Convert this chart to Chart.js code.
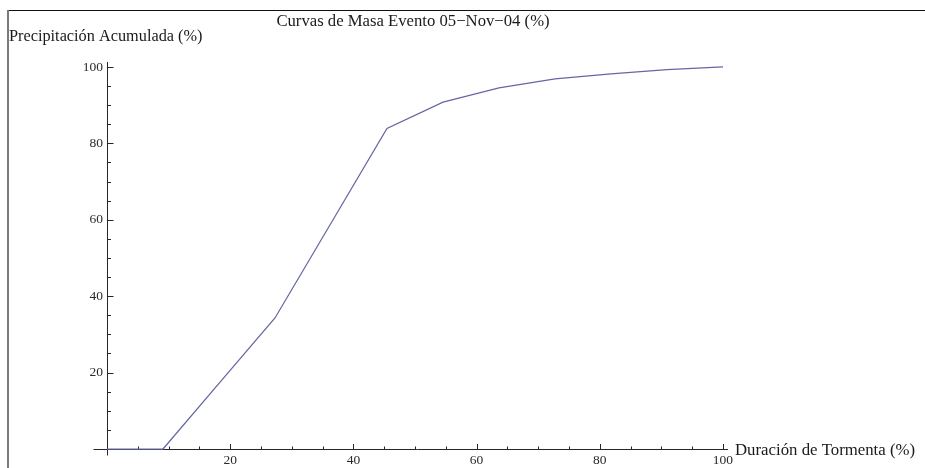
<!DOCTYPE html>
<html>
<head>
<meta charset="utf-8">
<script src="https://cdn.jsdelivr.net/npm/chart.js@4.4.1/dist/chart.umd.min.js"></script>
<style>
  html, body { margin: 0; padding: 0; background: #fff; }
  canvas { display: block; }
</style>
</head>
<body>
<canvas id="massCurve" width="925" height="468"></canvas>
<script>
// Texts
const chartTitle = 'Curvas de Masa Evento 05\u2212Nov\u221204 (%)';
const xAxisTitle = 'Duración de Tormenta (%)';
const yAxisTitle = 'Precipitación Acumulada (%)';

// Mass curve: cumulative storm duration (%) vs cumulative rainfall (%)
const durationPct = [0, 9.09, 18.18, 27.27, 36.36, 45.45, 54.55, 63.64, 72.73, 81.82, 90.91, 100];
const precipPct   = [0, 0, 17.2, 34.3, 59.1, 83.9, 90.8, 94.5, 96.9, 98.2, 99.3, 100];

// Labelled ticks and minor tick step
const xTickValues = [20, 40, 60, 80, 100];
const yTickValues = [20, 40, 60, 80, 100];
const minorStep = 5;

const serif = "'Liberation Serif', 'Times New Roman', serif";
const axisColor = '#262626';
const lineColor = '#6666a4';

// Frame, tick marks, axis overhangs and titles (Mathematica-style axes through the origin)
const axesDecor = {
  id: 'axesDecor',
  beforeDraw(chart) {
    const ctx = chart.ctx;
    ctx.save();
    ctx.fillStyle = '#fff';
    ctx.fillRect(0, 0, chart.width, chart.height);
    ctx.fillStyle = '#111';
    ctx.fillRect(8, 10, chart.width - 8, 1);
    ctx.fillStyle = '#7a7a7a';
    ctx.fillRect(7, 10, 2, chart.height - 10);
    ctx.restore();
  },
  beforeDatasetsDraw(chart) {
    const { ctx, scales: { x, y } } = chart;
    const x0 = Math.round(x.getPixelForValue(0)) + 0.5;
    const y0 = Math.round(y.getPixelForValue(0)) + 0.5;
    ctx.save();
    ctx.strokeStyle = axisColor;
    ctx.lineWidth = 1;
    ctx.beginPath();
    // overhangs past the origin
    ctx.moveTo(x0 - 14, y0); ctx.lineTo(x0, y0);
    ctx.moveTo(x0, y0); ctx.lineTo(x0, y0 + 6);
    // tick marks, drawn inward
    for (let v = minorStep; v <= 100; v += minorStep) {
      const major = v % 20 === 0;
      const px = Math.round(x.getPixelForValue(v)) + 0.5;
      ctx.moveTo(px, y0); ctx.lineTo(px, y0 - (major ? 5.5 : 3));
      const py = Math.round(y.getPixelForValue(v)) + 0.5;
      ctx.moveTo(x0, py); ctx.lineTo(x0 + (major ? 6 : 3.5), py);
    }
    ctx.stroke();
    ctx.restore();
  },
  afterDraw(chart) {
    const ctx = chart.ctx;
    ctx.save();
    ctx.fillStyle = '#1a1a1a';
    ctx.textBaseline = 'alphabetic';
    ctx.font = '16.7px ' + serif;
    ctx.textAlign = 'center';
    ctx.fillText(chartTitle, 413, 26);
    ctx.textAlign = 'left';
    ctx.font = '16.3px ' + serif;
    ctx.fillText(yAxisTitle, 9, 41);
    ctx.font = '16.8px ' + serif;
    ctx.fillText(xAxisTitle, 735, 455);
    ctx.restore();
  }
};

new Chart(document.getElementById('massCurve'), {
  type: 'scatter',
  data: {
    datasets: [{
      data: durationPct.map((d, i) => ({ x: d, y: precipPct[i] })),
      showLine: true,
      borderColor: lineColor,
      borderWidth: 1.25,
      pointRadius: 0,
      tension: 0,
      fill: false,
      clip: false
    }]
  },
  options: {
    responsive: false,
    devicePixelRatio: 1,
    animation: false,
    layout: { padding: { left: 0, right: 198, top: 62, bottom: 0 } },
    plugins: { legend: { display: false }, tooltip: { enabled: false }, title: { display: false } },
    scales: {
      x: {
        type: 'linear',
        position: 'bottom',
        min: 0,
        max: 100.65,
        afterFit(s) { s.height = 19; },
        afterBuildTicks(s) { s.ticks = xTickValues.map(v => ({ value: v })); },
        grid: { display: false, drawTicks: false },
        border: { display: true, color: axisColor, width: 1 },
        ticks: {
          padding: 3,
          autoSkip: false,
          maxRotation: 0,
          color: '#2a2a2a',
          font: { family: serif, size: 13.5 }
        }
      },
      y: {
        type: 'linear',
        position: 'left',
        min: 0,
        max: 101.3,
        afterFit(s) { s.width = 107; },
        afterBuildTicks(s) { s.ticks = yTickValues.map(v => ({ value: v })); },
        grid: { display: false, drawTicks: false },
        border: { display: true, color: axisColor, width: 1 },
        ticks: {
          padding: 4,
          autoSkip: false,
          color: '#2a2a2a',
          font: { family: serif, size: 13.5 }
        }
      }
    }
  },
  plugins: [axesDecor]
});
</script>
</body>
</html>
